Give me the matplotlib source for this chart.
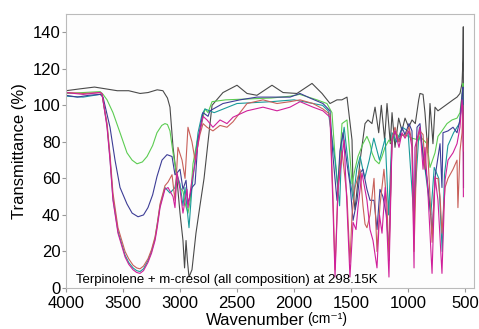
import matplotlib
matplotlib.use("Agg")
import matplotlib.pyplot as plt

plt.rcParams['font.family'] = ['Liberation Sans', 'DejaVu Sans']

# ---------------- data ----------------
gray_wn = [4000, 3880, 3750, 3650, 3550, 3450, 3350, 3280, 3200, 3150, 3110, 3088, 3061, 3026, 3000,
           2974, 2960, 2947, 2935, 2921, 2895, 2860, 2825, 2789, 2754, 2719, 2623, 2500, 2412, 2325,
           2193, 2096, 1974, 1842, 1754, 1684, 1623, 1580, 1535, 1491, 1482, 1465, 1420, 1377, 1351,
           1316, 1289, 1257, 1234, 1205, 1184, 1155, 1140, 1114, 1082, 1053, 1026, 994, 965, 936,
           906, 895, 868, 851, 825, 807, 781, 763, 737, 693, 649, 605, 570, 544, 526, 518, 515, 513]
gray_t = [108, 109, 110, 109, 108, 108, 106.5, 107, 108.5, 108, 104, 99, 77, 59, 41,
          26, 11, 26, 15, 6, 10, 30, 45, 60, 80, 100, 107, 111, 106.5, 105.5,
          111, 107, 106.5, 112, 106.5, 101, 103, 103, 104.5, 81, 53, 43, 70, 90, 92,
          90, 99, 85, 100, 81, 101, 79, 96, 77, 93, 86, 93, 88, 92, 90,
          103, 106.5, 106, 96, 74, 101, 79, 99, 97, 99, 101, 103, 104.5, 106.5, 112, 125, 143, 55]

green_wn = [4000, 3850, 3700, 3675, 3640, 3588, 3526, 3465, 3420, 3377, 3330, 3289, 3240, 3202, 3160,
            3132, 3110, 3088, 3061, 3026,
            3000, 2974, 2950, 2930, 2910, 2886, 2851, 2825, 2781, 2754, 2719, 2600, 2400, 2200, 2035,
            1950, 1798, 1711, 1667, 1640, 1614, 1579, 1535, 1509, 1491, 1465, 1439, 1395, 1360, 1333,
            1316, 1289, 1254, 1228, 1202, 1167, 1140, 1114, 1079, 1026, 965, 903, 895, 833, 807,
            763, 737, 702, 658, 614, 570, 544, 526, 518, 514]
green_t = [106.5, 107, 107.5, 106, 103, 96, 85, 74, 70, 68, 69, 72, 78, 85, 89,
           90, 89.5, 86, 74, 61,
           55, 53, 45, 41, 48, 68, 80, 86, 98, 96, 102, 103, 103.5, 104, 105,
           106, 103, 101, 96, 72, 54, 90, 92, 72, 57, 65, 72, 79, 83, 79,
           74, 70, 68, 72, 77, 81, 79, 85, 83, 84, 82, 81, 83, 79, 66,
           74, 83, 86, 90, 92, 93, 96, 106, 112, 90]

teal_wn = [4000, 3850, 3700, 3684, 3640, 3614, 3588, 3544, 3482, 3450, 3412, 3380, 3351, 3320, 3281,
           3250, 3219, 3175, 3132,
           3088, 3044, 3026, 3000, 2974, 2956, 2921, 2895, 2868, 2842, 2807, 2781, 2700, 2500, 2200,
           2000, 1750, 1700, 1640, 1600, 1580, 1560, 1510, 1480, 1450, 1420, 1380, 1340, 1300, 1250,
           1200, 1170, 1140, 1100, 1050, 1000, 950, 900, 860, 800, 770, 730, 700, 680, 650,
           600, 550, 520, 514]
teal_t = [105, 104.5, 106, 106, 89, 71, 49, 31, 18, 14, 11, 9.5, 9, 10.5, 15,
          20, 27, 45, 55,
          52, 55, 62, 57, 45, 55, 33, 55, 70, 85, 95, 98, 96, 101, 102,
          103, 100, 97, 70, 45, 80, 88, 60, 48, 65, 72, 60, 70, 82, 70,
          82, 40, 85, 80, 88, 86, 40, 88, 70, 40, 66, 60, 20, 62, 78,
          85, 90, 104, 80]

navy_wn = [4000, 3900, 3800, 3700, 3675, 3614, 3570, 3526, 3465, 3420, 3368, 3320, 3281, 3240, 3202,
           3158, 3114, 3070,
           3044, 3026, 3000, 2974, 2947, 2930, 2895, 2868, 2842, 2798, 2754, 2737, 2623, 2474, 2325,
           2035, 1947, 1860, 1746, 1684, 1658, 1623, 1597, 1570, 1535, 1509, 1482, 1447, 1421, 1395,
           1360, 1333, 1298, 1272, 1246, 1220, 1190, 1167, 1140, 1114, 1079, 1053, 1026, 991, 965,
           947, 921, 895, 868, 833, 800, 789, 760, 719, 702, 693, 649, 605, 570, 544, 526, 518, 514]
navy_t = [105.5, 104.5, 105.5, 106, 104.5, 88, 70, 55, 46, 41, 39, 40, 44, 51, 61,
          70, 73, 72,
          62, 63, 65, 54, 59, 46, 55, 57, 81, 96, 94, 97, 101, 103, 104.5,
          104.5, 106.5, 104, 101, 97, 72, 48, 75, 85, 68, 57, 37, 48, 63, 65,
          54, 48, 48, 32, 54, 50, 40, 20, 81, 86, 80, 88, 84, 90, 86,
          35, 88, 90, 72, 60, 40, 30, 62, 79, 55, 85, 86, 88, 85, 92, 106, 110, 85]

red_wn = [4000, 3850, 3700, 3684, 3640, 3614, 3588, 3544, 3482, 3450, 3412, 3380, 3351, 3320, 3281,
          3250, 3219, 3200, 3175, 3132,
          3105, 3070, 3044, 3018, 2982, 2956, 2930, 2895, 2868, 2825, 2798, 2763, 2711, 2649, 2588,
          2535, 2412, 2272, 2149, 2035, 1947, 1833, 1746, 1684, 1658, 1640, 1614, 1579, 1535, 1509,
          1491, 1465, 1421, 1395, 1377, 1360, 1333, 1298, 1272, 1246, 1211, 1184, 1167, 1140, 1114,
          1079, 1053, 1026, 991, 965, 947, 921, 895, 868, 851, 833, 807, 789, 763, 737,
          719, 702, 675, 649, 605, 570, 562, 544, 526, 518, 514]
red_t = [107, 106.5, 107, 106, 90, 73, 52, 33, 20, 16, 12.5, 11, 10.5, 12, 16,
         21, 28, 35, 46, 56,
         58, 62, 48, 77, 70, 60, 88, 80, 70, 84, 90, 88, 86, 89, 88,
         91, 101, 103, 101, 102, 103, 101, 98, 95, 50, 10, 56, 75, 50, 14,
         40, 55, 65, 45, 35, 33, 40, 60, 20, 45, 65, 45, 15, 82, 88,
         80, 84, 83, 88, 80, 20, 80, 86, 84, 65, 82, 50, 25, 60, 60,
         50, 30, 55, 60, 65, 70, 44, 75, 85, 100, 75]

magenta_wn = [4000, 3850, 3700, 3684, 3640, 3614, 3588, 3544, 3482, 3450, 3412, 3380, 3351, 3320, 3281,
              3250, 3219, 3200, 3175, 3132,
              3105, 3061, 3044, 3026, 3000, 2974, 2939, 2930, 2895, 2868, 2825, 2798, 2763, 2711, 2649,
              2588, 2535, 2412, 2272, 2149, 2035, 1947, 1833, 1746, 1684, 1658, 1640, 1614, 1579, 1561,
              1535, 1509, 1482, 1456, 1439, 1404, 1360, 1333, 1307, 1272, 1250, 1228, 1200, 1167, 1140,
              1114, 1079, 1053, 1026, 991, 965, 947, 939, 903, 895, 868, 851, 825, 789, 763,
              737, 702, 675, 649, 605, 570, 544, 526, 518, 514]
magenta_t = [107, 106, 107, 106.5, 88, 70, 48, 30, 17, 13, 10, 8.5, 8, 9.5, 14,
             19, 26, 33, 44, 54,
             55, 50, 44, 63, 54, 41, 54, 44, 59, 68, 86, 94, 92, 88, 92,
             90, 93.5, 97, 99, 97, 99, 102, 99, 97, 93.5, 44, 6, 54, 72, 81,
             44, 6, 36, 32, 44, 63, 48, 32, 26, 11, 40, 30, 55, 6, 81,
             86, 77, 85, 82, 86, 77, 11, 77, 86, 88, 65, 77, 52, 8, 61,
             48, 8, 59, 70, 74, 79, 88, 103, 95, 50]

x_ticks = [4000, 3500, 3000, 2500, 2000, 1500, 1000, 500]
y_ticks = [0, 20, 40, 60, 80, 100, 120, 140]
annotation = "Terpinolene + m-cresol (all composition) at 298.15K"

series = [
    (gray_wn, gray_t, '#4a4a4a'),
    (green_wn, green_t, '#5ccc52'),
    (teal_wn, teal_t, '#1a9a9a'),
    (navy_wn, navy_t, '#3d3d96'),
    (red_wn, red_t, '#c8605a'),
    (magenta_wn, magenta_t, '#d0209a'),
]

# ---------------- figure ----------------
fig = plt.figure(figsize=(4.79, 3.29), dpi=100)
ax = fig.add_axes([66/479, 1-288/329, (474-66)/479, (288-14)/329])
ax.set_facecolor('#fdfdfd')

for wn, t, c in series:
    ax.plot(wn, t, color=c, lw=0.8)

ax.set_xlim(4000, 421)
ax.set_ylim(0, 150)
ax.set_xticks(x_ticks)
ax.set_yticks(y_ticks)
ax.tick_params(axis='both', labelsize=12, colors='#999999', labelcolor='black',
               length=3, width=0.8)
ax.tick_params(axis='y', pad=1)
ax.tick_params(axis='x', pad=3)
for s in ax.spines.values():
    s.set_color('#bbbbbb')
    s.set_linewidth(0.8)

ax.set_ylabel('Transmittance (%)', fontsize=12, labelpad=4)
fig.text(305/479, 0.004, 'Wavenumber', fontsize=12, ha='right', va='bottom')
fig.text(307/479, 0.008, '(cm\u207b\u00b9)', fontsize=10, ha='left', va='bottom')

ax.text(0.025, 0.008, annotation, transform=ax.transAxes, fontsize=9.5, ha='left', va='bottom')

fig.savefig('out.png', dpi=100)
